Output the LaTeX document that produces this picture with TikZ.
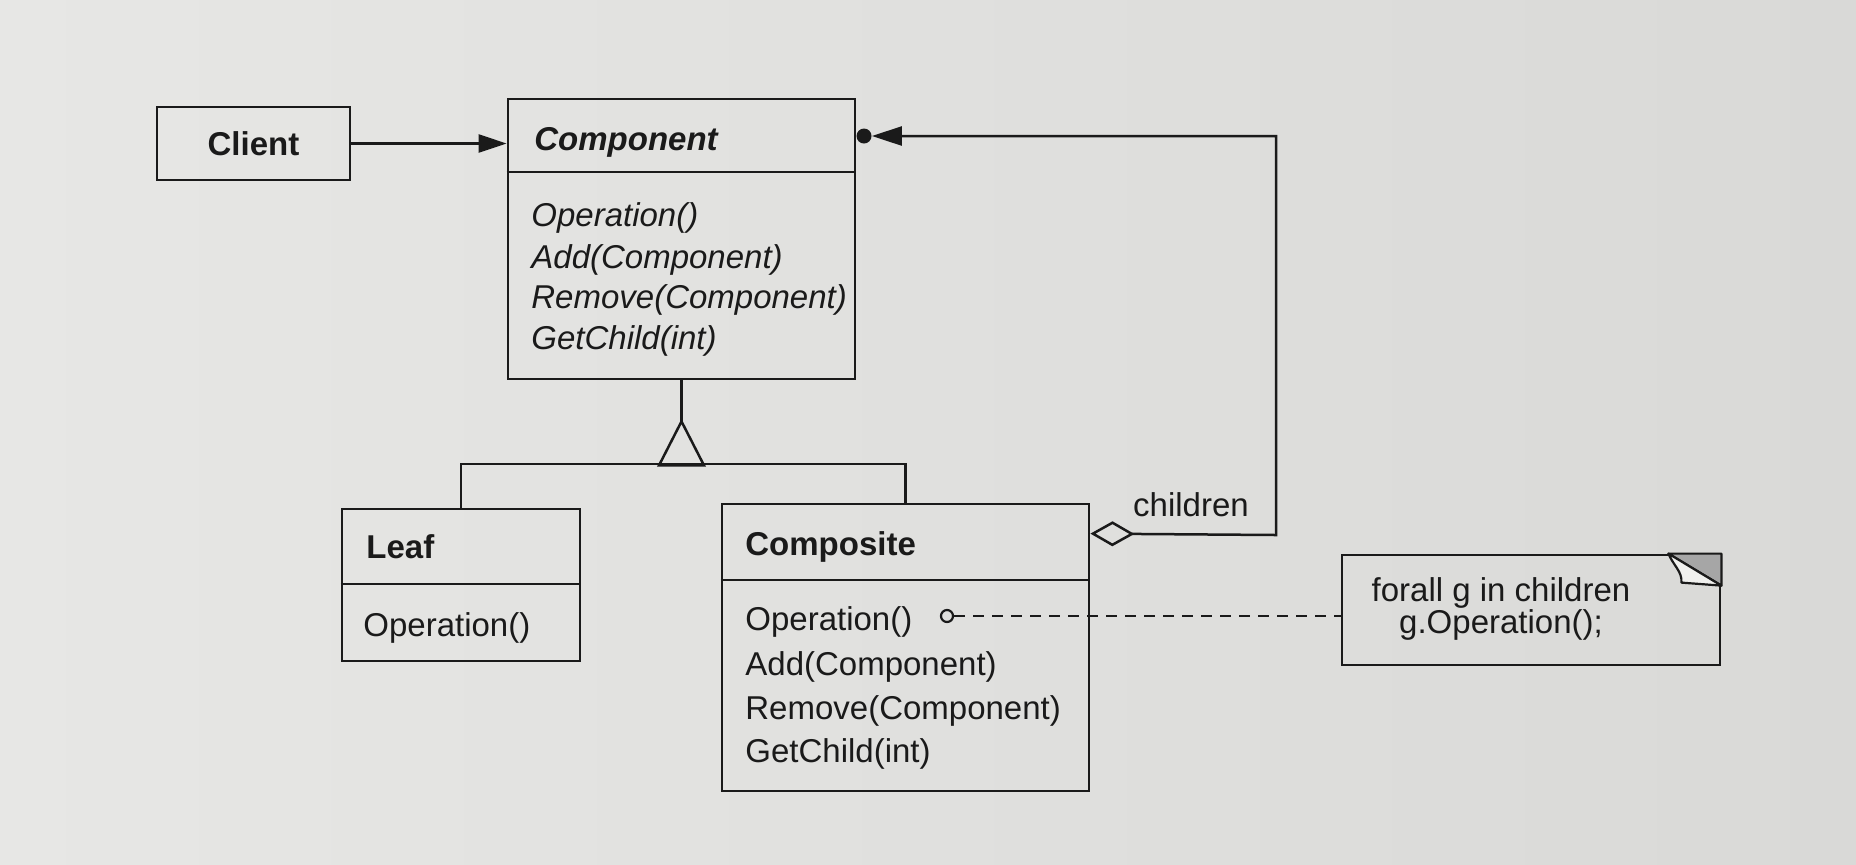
\documentclass[tikz,border=0pt]{standalone}
\usepackage{fontspec}
\setmainfont{Liberation Sans}
\usetikzlibrary{arrows.meta,calc}
\definecolor{paper}{HTML}{E7E7E5}
\definecolor{paperL}{HTML}{F0F0EE}
\definecolor{paperR}{HTML}{D9D9D7}
\definecolor{ink}{HTML}{1A1A1A}
\newcommand\dfont{\fontsize{16.5pt}{20pt}\selectfont}
\begin{document}
\begin{tikzpicture}[x=0.5pt,y=-0.5pt,
  every node/.style={font=\dfont, text=ink},
  cls/.style={draw=ink, line width=1.4pt, inner sep=0pt},
  divider/.style={draw=ink, line width=1.4pt},
  lbl/.style={anchor=west, inner sep=0pt, yshift=-2pt},
  link/.style={draw=ink, line width=1.25pt}]
\shade[left color=paper, middle color=paperL, right color=paperR] (0,0) rectangle (1856,864);
\useasboundingbox (0,0) rectangle (1856,864);

% Client
\node[cls, minimum width=96.5pt, minimum height=36.5pt] (client) at (253.5,143.5) {\bfseries Client};

% Component
\node[cls, minimum width=173.5pt, minimum height=140pt] (comp) at (681.5,239) {};
\draw[divider] (comp.west |- 0,172) -- (comp.east |- 0,172);
\node[lbl] (compt) at (534,138) {\bfseries\itshape Component};
\node[lbl] (cm1) at (531,214) {\itshape Operation()};
\node[lbl] (cm2) at (531,256) {\itshape Add(Component)};
\node[lbl] (cm3) at (531,296) {\itshape Remove(Component)};
\node[lbl] (cm4) at (531,337) {\itshape GetChild(int)};

% Leaf
\node[cls, minimum width=119pt, minimum height=76pt] (leaf) at (461,585) {};
\draw[divider] (leaf.west |- 0,584) -- (leaf.east |- 0,584);
\node[lbl] (leaft) at (366,543) {\bfseries Leaf};
\node[lbl] (lm1) at (363,624) {Operation()};

% Composite
\node[cls, minimum width=183.5pt, minimum height=143.5pt] (compo) at (905.5,647.5) {};
\draw[divider] (compo.west |- 0,580) -- (compo.east |- 0,580);
\node[lbl] (compot) at (745,543) {\bfseries Composite};
\node[lbl] (om1) at (745,618) {Operation()};
\node[lbl] (om2) at (745,663) {Add(Component)};
\node[lbl] (om3) at (745,707) {Remove(Component)};
\node[lbl] (om4) at (745,750) {GetChild(int)};

% Note
\node[cls, minimum width=189pt, minimum height=55pt] (note) at (1531,610) {};
\node[align=center, inner sep=0pt, font=\fontsize{16.5pt}{16pt}\selectfont] (notetext) at (1501,609) {forall g in children\\g.Operation();};
\coordinate (fa) at ($(note.north east)+(-53,0)$);
\coordinate (fb) at ($(note.north east)+(0,32)$);
\filldraw[fill=gray!70, draw=ink, line width=1.1pt, line join=round] (fa) -- (note.north east) -- (fb) -- cycle;
\filldraw[fill=paperL, draw=ink, line width=1.1pt, line join=round] (fa) .. controls ($(fa)+(5,12)$) and ($(fa)+(14,18)$) .. ($(fa)+(13,29)$) -- (fb) -- cycle;

% Client -> Component
\draw[link, -{Triangle[length=14pt,width=9pt]}] (client.east) -- (client.east -| comp.west);

% Inheritance
\coordinate (apex) at ($(comp.south)+(0,41)$);
\draw[link] (comp.south) -- (apex);
\draw[link, line join=miter] (apex) -- ++(-22.5,44) -- ++(45,0) -- cycle;
\draw[link] (leaf.north) -- (leaf.north |- 0,464) -- (compo.north |- 0,464) -- (compo.north);

% Aggregation back to Component
\node[circle, fill=ink, inner sep=0pt, minimum size=7.5pt] (dot) at (864,136) {};
\coordinate (aggs) at ($(compo.north east)+(0,31)$);
\coordinate (bend1) at (1276,535);
\coordinate (bend2) at (1276,136);
\draw[link, {Diamond[open,length=22pt,width=12.5pt]}-{Triangle[length=15pt,width=9.5pt]}] (aggs) -- (bend1) -- (bend2) -- (dot.east);
\node (childlbl) at (1191,505) {children};

% Dashed note link
\node[circle, draw=ink, line width=1.1pt, inner sep=0pt, minimum size=6pt] (opdot) at (947,616) {};
\draw[link, dash pattern=on 5.5pt off 4pt] (opdot.east) -- (opdot -| note.west);
\end{tikzpicture}
\end{document}
